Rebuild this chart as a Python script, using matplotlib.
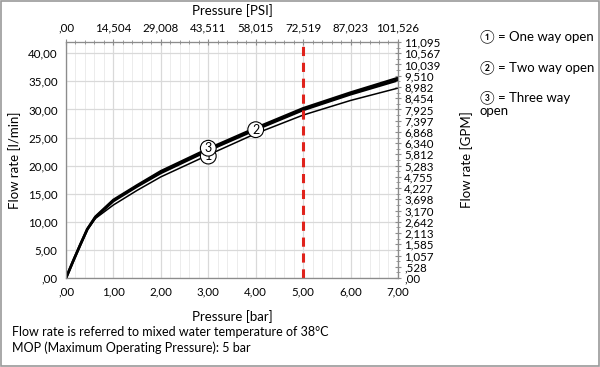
import matplotlib.pyplot as plt
from matplotlib.patches import Rectangle
from matplotlib.ticker import MultipleLocator

# datos (presion en bar, caudal en l/min)
pressure_bar = [0, 0.15, 0.3, 0.45, 0.62, 1.0, 1.5, 2.0, 3.0, 4.0, 5.0, 6.0, 7.0]
flow_three = [0, 3.0, 5.9, 8.7, 10.9, 13.9, 16.5, 19.0, 23.0, 26.7, 30.2, 33.0, 35.6]
flow_two = [0, 3.0, 5.9, 8.7, 10.8, 13.7, 16.3, 18.7, 22.7, 26.4, 29.9, 32.7, 35.2]
flow_one = [0, 3.0, 5.9, 8.6, 10.6, 13.0, 15.6, 18.0, 21.9, 25.7, 29.0, 31.6, 33.8]

bar_ticks = [0, 1, 2, 3, 4, 5, 6, 7]
bar_labels = [",00", "1,00", "2,00", "3,00", "4,00", "5,00", "6,00", "7,00"]
psi_labels = [",00", "14,504", "29,008", "43,511", "58,015", "72,519", "87,023", "101,526"]
lpm_ticks = [0, 5, 10, 15, 20, 25, 30, 35, 40]
lpm_labels = [",00", "5,00", "10,00", "15,00", "20,00", "25,00", "30,00", "35,00", "40,00"]
gpm_ticks = list(range(0, 43, 2))
gpm_labels = [",00", ",528", "1,057", "1,585", "2,113", "2,642", "3,170", "3,698",
              "4,227", "4,755", "5,283", "5,812", "6,340", "6,868", "7,397", "7,925",
              "8,454", "8,982", "9,510", "10,039", "10,567", "11,095"]
mop_bar = 5

FONT = ["Lato", "DejaVu Sans"]
plt.rcParams["font.family"] = FONT
GRID = "#d9d9d9"
SPINE = "#8c8c8c"
TICK_FS = 8.3

fig = plt.figure(figsize=(6, 3.67), dpi=100)
ax = fig.add_axes([0.11, 0.2425, 0.5533, 0.643])

ax.set_xlim(0, 7)
ax.set_ylim(0, 42)
ax.xaxis.set_minor_locator(MultipleLocator(0.2))
ax.grid(which="major", color=GRID, linewidth=0.9)
ax.grid(which="minor", axis="x", color="#ececec", linewidth=0.7)
ax.set_axisbelow(True)

ax.plot(pressure_bar, flow_three, color="black", linewidth=1.9, zorder=3)
ax.plot(pressure_bar, flow_two, color="black", linewidth=1.9, zorder=3)
ax.plot(pressure_bar, flow_one, color="black", linewidth=1.1, zorder=3)
ax.axvline(mop_bar, color="#e0231c", linewidth=2.2, linestyle=(0, (3, 2.2)), zorder=4)

# marcas con circulo sobre las curvas
circ = dict(boxstyle="circle,pad=0.15", fc="white", ec="black", lw=0.8)
ax.text(3.0, flow_one[8] - 0.2, "1", fontsize=9, ha="center", va="center", bbox=circ, zorder=5)
ax.text(3.0, flow_three[8] + 0.1, "3", fontsize=9, ha="center", va="center", bbox=circ, zorder=6)
ax.text(4.0, flow_two[9], "2", fontsize=9, ha="center", va="center", bbox=circ, zorder=6)

ax.set_xticks(bar_ticks)
ax.set_xticklabels(bar_labels, fontsize=TICK_FS)
ax.set_yticks(lpm_ticks)
ax.set_yticklabels(lpm_labels, fontsize=TICK_FS)
ax.tick_params(axis="both", which="both", length=0, pad=6)
ax.set_xlabel("Pressure [bar]", fontsize=9.5, labelpad=9)
ax.set_ylabel("Flow rate [l/min]", fontsize=9.5, labelpad=5)
for s in ax.spines.values():
    s.set_color(SPINE)

# eje superior en PSI
top = ax.twiny()
top.set_xlim(0, 7)
top.set_xticks(bar_ticks)
top.set_xticklabels(psi_labels, fontsize=TICK_FS)
top.xaxis.set_minor_locator(MultipleLocator(0.2))
top.tick_params(axis="x", which="major", direction="inout", length=5, color=SPINE, pad=4)
top.tick_params(axis="x", which="minor", direction="inout", length=3, color=SPINE)
top.set_xlabel("Pressure [PSI]", fontsize=9.5, labelpad=5)

# eje derecho en GPM
right = ax.twinx()
right.set_ylim(0, 42)
right.set_yticks(gpm_ticks)
right.set_yticklabels(gpm_labels, fontsize=TICK_FS, linespacing=0.9)
right.yaxis.set_minor_locator(MultipleLocator(1))
right.tick_params(axis="y", which="major", direction="inout", length=5, color=SPINE, pad=2)
right.tick_params(axis="y", which="minor", direction="inout", length=3, color=SPINE)
right.set_ylabel("Flow rate [GPM]", fontsize=9.5, labelpad=14)
for a in (top, right):
    for s in a.spines.values():
        s.set_color(SPINE)

# leyenda de texto
fig.text(0.80, 0.902, "\u2460 = One way open", fontsize=9.5, va="center")
fig.text(0.80, 0.817, "\u2461 = Two way open", fontsize=9.5, va="center")
fig.text(0.80, 0.735, "\u2462 = Three way", fontsize=9.5, va="center")
fig.text(0.80, 0.697, "open", fontsize=9.5, va="center")

fig.text(0.02, 0.095, "Flow rate is referred to mixed water temperature of 38°C", fontsize=9, va="center")
fig.text(0.02, 0.052, "MOP (Maximum Operating Pressure): 5 bar", fontsize=9, va="center")

fig.patches.append(Rectangle((0.001, 0.002), 0.997, 0.995, transform=fig.transFigure,
                             fill=False, edgecolor="#9a9a9a", linewidth=1.2))

fig.savefig("out.png", dpi=100)
